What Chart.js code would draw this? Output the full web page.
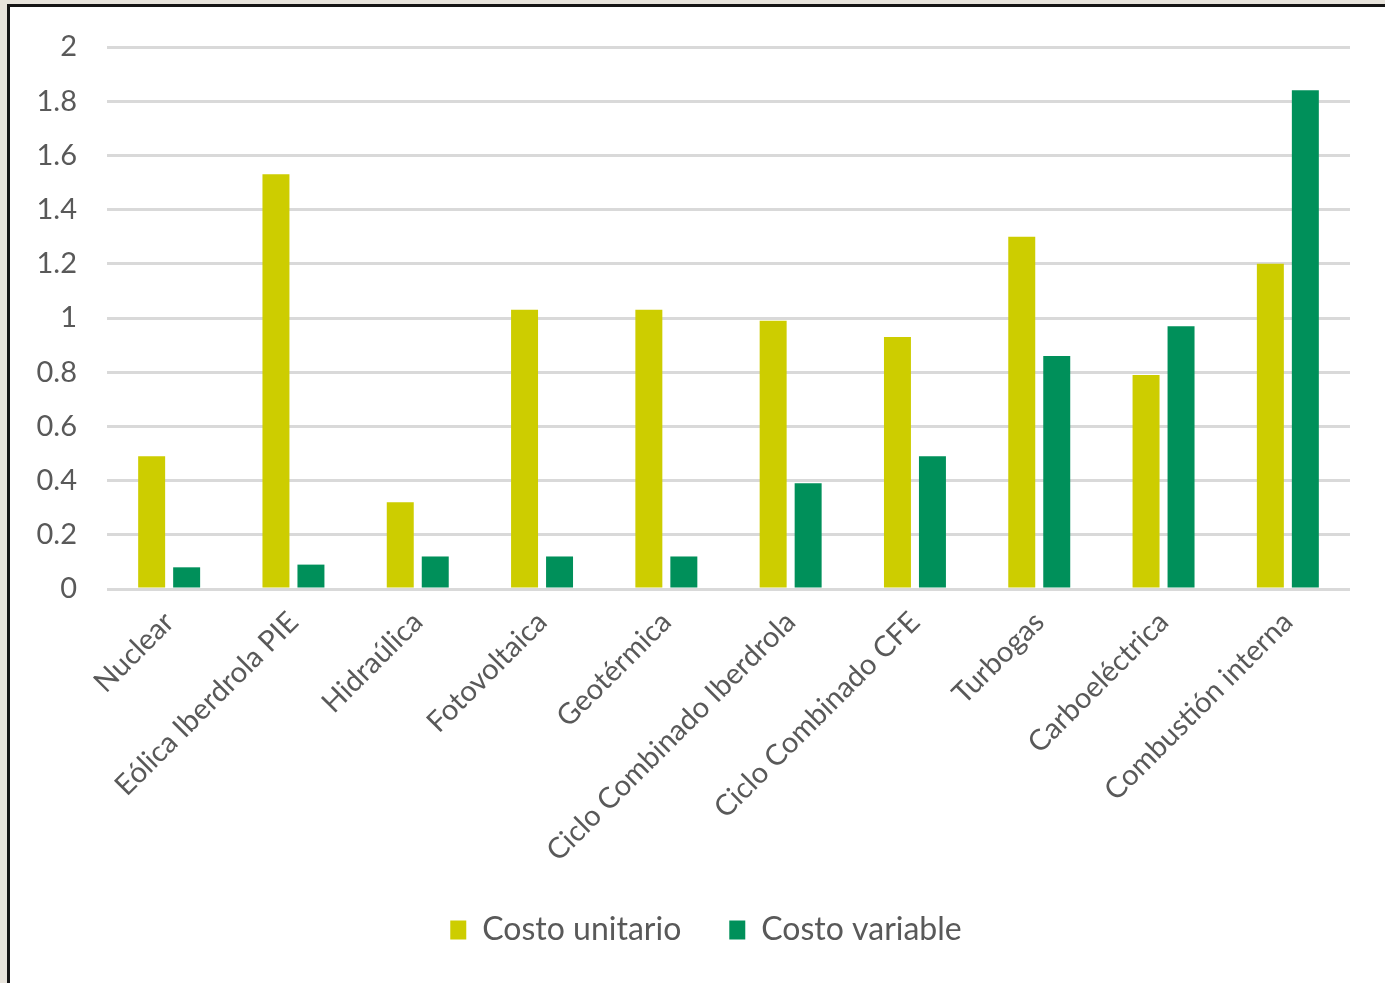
<!DOCTYPE html>
<html>
<head>
<meta charset="utf-8">
<title>Costos</title>
<script src="https://cdn.jsdelivr.net/npm/chart.js@4.4.1/dist/chart.umd.min.js"></script>
<style>
    html, body {
        margin: 0;
        padding: 0;
        background: #e8e4dc;
        overflow: hidden;
    }
    #frame {
        position: absolute;
        left: 7px;
        top: 4px;
        width: 1375px;
        height: 976px;
        border-left: 3px solid #161616;
        border-top: 3px solid #161616;
        background: #ffffff;
    }
    #chart {
        display: block;
    }
</style>
</head>
<body>
<div id="frame">
    <canvas id="chart" width="1375" height="976"></canvas>
</div>
<script>
const categories = ["Nuclear", "Eólica Iberdrola PIE", "Hidraúlica", "Fotovoltaica", "Geotérmica",
    "Ciclo Combinado Iberdrola", "Ciclo Combinado CFE", "Turbogas", "Carboeléctrica", "Combustión interna"];
const costoUnitario = [0.49, 1.53, 0.32, 1.03, 1.03, 0.99, 0.93, 1.30, 0.79, 1.20];
const costoVariable = [0.08, 0.09, 0.12, 0.12, 0.12, 0.39, 0.49, 0.86, 0.97, 1.84];
const yTicks = [0, 0.2, 0.4, 0.6, 0.8, 1, 1.2, 1.4, 1.6, 1.8, 2];

const gray = '#595959';
const fontFamily = 'Lato, "Open Sans", sans-serif';

let chartdata = {
    labels: categories,
    datasets: [{
        label: 'Costo unitario',
        backgroundColor: '#cdcd00',
        data: costoUnitario,
        categoryPercentage: 0.563,
        barPercentage: 0.771
    }, {
        label: 'Costo variable',
        backgroundColor: '#00905a',
        data: costoVariable,
        categoryPercentage: 0.563,
        barPercentage: 0.771
    }]
};

// nudge the legend a bit to the right / down, like in the original
const legendShift = {
    id: 'legendShift',
    afterLayout: function (chart) {
        let lg = chart.legend;
        lg.left += 26;
        lg.right += 26;
        lg.top += 3;
        lg.bottom += 3;
    }
};

new Chart(document.getElementById('chart'), {
    type: 'bar',
    data: chartdata,
    plugins: [legendShift],
    options: {
        responsive: false,
        animation: false,
        layout: {
            padding: {top: 40, right: 35, bottom: 30, left: 0}
        },
        plugins: {
            tooltip: {enabled: false},
            legend: {
                position: 'bottom',
                labels: {
                    color: gray,
                    font: {family: fontFamily, size: 32},
                    boxWidth: 16,
                    boxHeight: 19,
                    padding: 48
                }
            }
        },
        scales: {
            x: {
                grid: {display: false},
                border: {display: false},
                ticks: {
                    color: gray,
                    font: {family: fontFamily, size: 29},
                    maxRotation: 45,
                    minRotation: 45,
                    autoSkip: false,
                    padding: 8
                },
                afterFit: function (scale) {
                    scale.height = 274;
                }
            },
            y: {
                min: 0,
                max: 2,
                afterBuildTicks: function (scale) {
                    scale.ticks = yTicks.map(function (v) { return {value: v}; });
                },
                grid: {
                    color: '#d9d9d9',
                    lineWidth: 3,
                    drawTicks: false
                },
                border: {display: false},
                ticks: {
                    color: gray,
                    font: {family: fontFamily, size: 29},
                    padding: 30,
                    callback: function (v) { return String(v); }
                },
                afterFit: function (scale) {
                    scale.width = 97;
                    scale.paddingTop = 0;
                    scale.paddingBottom = 0;
                }
            }
        }
    }
});
</script>
</body>
</html>
